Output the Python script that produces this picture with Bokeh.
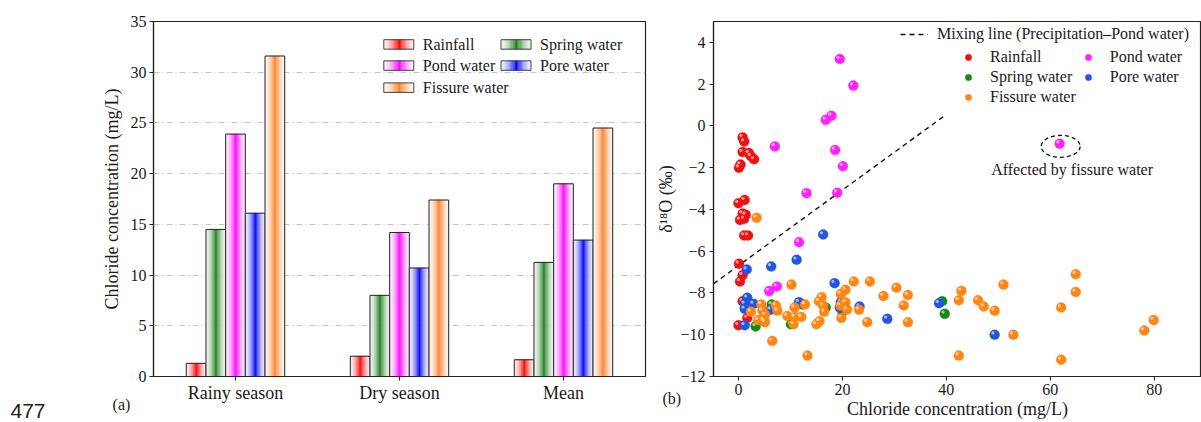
import numpy as np
from bokeh.plotting import figure
from bokeh.models import (Range1d, FixedTicker, Label, Legend, LegendItem,
                          CustomJSTickFormatter)
from bokeh.layouts import row
from bokeh.embed import file_html
from bokeh.resources import INLINE
from bokeh.core.properties import value
from bokeh.transform import dodge

# ---------------- data : panel (a) ----------------
seasons = ["Rainy season", "Dry season", "Mean"]
water_types = ["Rainfall", "Spring water", "Pond water", "Pore water", "Fissure water"]
rainfall_cl = [1.3, 2.0, 1.65]
spring_cl = [14.5, 8.0, 11.25]
pond_cl = [23.9, 14.2, 19.0]
pore_cl = [16.1, 10.7, 13.45]
fissure_cl = [31.6, 17.4, 24.5]
a_yticks = [0, 5, 10, 15, 20, 25, 30, 35]

# ---------------- data : panel (b) ----------------
rain_x = [0.8, 1.1, 0.8, 2.0, 2.4, 3.0, 0.1, 0.4, 0.0, 1.2, 0.8, 1.4, 0.3, 1.1, 1.1, 1.85,
          0.1, 0.8, 0.3, 0.8, 1.7, 0.0]
rain_y = [-0.55, -0.75, -1.25, -1.3, -1.45, -1.6, -2.0, -1.85, -3.7, -3.55, -4.2, -4.25,
          -4.5, -4.45, -5.25, -5.25, -6.6, -7.15, -7.45, -8.4, -9.2, -9.55]
pond_x = [19.5, 22.1, 16.8, 17.9, 7.0, 18.6, 20.1, 13.1, 19.0, 11.65, 5.9, 7.4, 61.8]
pond_y = [3.2, 1.93, 0.29, 0.49, -0.98, -1.15, -1.93, -3.22, -3.2, -5.57, -7.91, -7.69, -0.85]
spring_x = [3.3, 6.4, 6.5, 10.1, 12.3, 16.8, 20.0, 39.2, 39.7]
spring_y = [-9.6, -8.55, -8.75, -9.5, -8.55, -8.7, -8.9, -8.4, -9.0]
pore_x = [16.3, 11.2, 6.3, 1.6, 18.5, 1.7, 1.2, 2.9, 1.2, 6.2, 1.2, 11.65, 19.7, 19.5,
          23.3, 28.65, 38.6, 49.3]
pore_y = [-5.2, -6.41, -6.73, -6.88, -7.53, -8.23, -8.52, -8.52, -8.76, -8.8, -9.55, -8.44,
          -8.44, -8.7, -8.65, -9.24, -8.49, -10.0]
fissure_x = [3.5, 10.2, 22.2, 25.3, 30.4, 27.9, 32.6, 31.8, 32.6, 24.8, 23.2, 20.6, 19.7,
             16.0, 15.5, 16.3, 16.5, 15.0, 15.6, 20.6, 20.9, 19.8, 19.6, 12.8, 10.8, 9.4,
             10.8, 12.1, 10.6, 13.3, 6.5, 4.4, 4.6, 5.1, 4.8, 3.8, 5.1, 7.2, 7.5, 2.4,
             64.9, 51.0, 42.9, 64.9, 42.4, 46.1, 47.2, 49.3, 62.1, 52.9, 79.9, 78.1, 42.4, 62.1]
fissure_y = [-4.4, -7.6, -7.45, -7.45, -7.75, -8.15, -8.1, -8.6, -9.4, -9.4, -8.8, -7.85,
             -8.05, -8.2, -8.4, -8.6, -8.9, -9.5, -9.35, -8.45, -8.8, -9.2, -8.6, -8.55,
             -8.7, -9.1, -9.15, -9.15, -9.5, -11.0, -10.3, -8.55, -8.85, -9.05, -9.3, -9.3,
             -9.4, -8.6, -8.85, -8.9, -7.1, -7.6, -7.9, -7.95, -8.35, -8.35, -8.65, -8.85,
             -8.7, -10.0, -9.3, -9.8, -11.0, -11.2]
mix_x = [-4.8, 39.4]
mix_y = [-7.56, 0.44]
b_xticks = [0, 20, 40, 60, 80]
b_yticks = [-12, -10, -8, -6, -4, -2, 0, 2, 4]

SERIF = "Liberation Serif"
TXT = "#1a1a1a"


def hexmix(c, t):
    r, g, b = int(c[1:3], 16), int(c[3:5], 16), int(c[5:7], 16)
    return "#%02x%02x%02x" % tuple(int(round(255 + (v - 255) * t)) for v in (r, g, b))


def profile(u):
    return 0.06 + 0.94 * max(0.0, 1 - abs(u - 0.52) / 0.52) ** 1.7


minus_fmt = CustomJSTickFormatter(code="return tick < 0 ? '\\u2212' + Math.abs(tick) : String(tick);")

# ================= panel (a) =================
A_LEFT, A_BOTTOM = 153, 393   # frame position in page pixels
pa = figure(width=650, height=422, x_range=Range1d(0, 3), y_range=Range1d(0, 35),
            output_backend="svg", toolbar_location=None,
            min_border_left=A_LEFT, min_border_right=5, min_border_top=18, min_border_bottom=29)
pa.outline_line_color = "#222"
pa.outline_line_width = 1.2
pa.xgrid.visible = False
pa.ygrid.grid_line_color = "#c4c4c4"
pa.ygrid.grid_line_dash = "6 3 1 3"
pa.ygrid.grid_line_width = 1

pa.xaxis.ticker = FixedTicker(ticks=[i + 0.5 for i in range(len(seasons))])
pa.xaxis.formatter = CustomJSTickFormatter(args=dict(labels=seasons),
                                           code="return labels[Math.floor(tick)];")
pa.yaxis.ticker = FixedTicker(ticks=a_yticks)
pa.yaxis.axis_label = "Chloride concentration (mg/L)"
for ax in (pa.xaxis[0], pa.yaxis[0]):
    ax.axis_line_color = "#222"
    ax.axis_line_width = 1.2
    ax.major_tick_line_color = "#222"
    ax.major_tick_out = 4
    ax.major_tick_in = 0
    ax.minor_tick_line_color = None
    ax.major_label_text_font = SERIF
    ax.major_label_text_color = TXT
    ax.axis_label_text_font = SERIF
    ax.axis_label_text_font_style = "normal"
    ax.axis_label_text_color = TXT
    ax.axis_label_text_font_size = "18px"
pa.xaxis.major_label_text_font_size = "18px"
pa.xaxis.major_label_standoff = 2
pa.yaxis.major_label_text_font_size = "16px"
pa.yaxis.major_label_standoff = 3
pa.yaxis.axis_label_standoff = 6

BW = 0.12
NS = 24
bar_colors = ["#ff0000", "#1e7d1e", "#ff00ff", "#0000ff", "#ff7f27"]
bar_values = [rainfall_cl, spring_cl, pond_cl, pore_cl, fissure_cl]
for k, (vals, col) in enumerate(zip(bar_values, bar_colors)):
    xs, tops, cols = [], [], []
    for i, v in enumerate(vals):
        c0 = i + 0.5 + (k - 2) * BW
        for j in range(NS):
            u = (j + 0.5) / NS
            xs.append(c0 - BW / 2 + u * BW)
            tops.append(v)
            cols.append(hexmix(col, profile(u)))
    pa.vbar(x=xs, top=tops, bottom=0, width=BW / NS, fill_color=cols, line_color=cols,
            line_width=0.4)
    pa.vbar(x=[i + 0.5 + (k - 2) * BW for i in range(len(vals))], top=vals, bottom=0,
            width=BW, fill_color=None, line_color="#222", line_width=1)


# manual legend with gradient swatches (positions from pixel layout)
def ax_a(px):
    return (px - A_LEFT) / 164.0


def ay_a(py):
    return (A_BOTTOM - py) / 10.7


leg_pos = [(0, 0), (0, 1), (1, 0), (1, 1), (2, 0)]
col_px = [398.3, 515.5]
row_py = [42.7, 65.0, 88.3]
sw_w, sw_h = 30, 10
for k, name in enumerate(water_types):
    r_, c_ = leg_pos[k]
    cx, cy = col_px[c_], row_py[r_]
    lefts, rights, cols = [], [], []
    for j in range(NS):
        u0, u1 = j / NS, (j + 1) / NS
        lefts.append(ax_a(cx - sw_w / 2 + u0 * sw_w))
        rights.append(ax_a(cx - sw_w / 2 + u1 * sw_w))
        cols.append(hexmix(bar_colors[k], profile((u0 + u1) / 2)))
    pa.quad(left=lefts, right=rights, top=ay_a(cy - sw_h / 2), bottom=ay_a(cy + sw_h / 2),
            fill_color=cols, line_color=cols, line_width=0.4)
    pa.quad(left=[ax_a(cx - sw_w / 2)], right=[ax_a(cx + sw_w / 2)], top=[ay_a(cy - sw_h / 2)],
            bottom=[ay_a(cy + sw_h / 2)], fill_color=None, line_color="#444", line_width=1)
    pa.text(x=[ax_a(cx + 24)], y=[ay_a(cy)], text=[name], text_font=value(SERIF),
            text_font_size="16px", text_baseline="middle", text_align="left", text_color=TXT)

# labels outside the frame: placed in side panels (not clipped to the frame)
pa.add_layout(Label(x=41, y=-28, x_units="screen", y_units="screen",
                    text="(a)", text_font=SERIF, text_font_size="16px",
                    text_align="center", text_baseline="middle", text_color=TXT), "left")
pa.add_layout(Label(x=-35, y=-34, x_units="screen", y_units="screen",
                    text="477", text_font="Liberation Sans", text_font_size="21px",
                    text_align="left", text_baseline="middle", text_color="#222"), "left")

# ================= panel (b) =================
pb = figure(width=551, height=422, x_range=Range1d(-4.8, 89.1), y_range=Range1d(-12, 5),
            output_backend="svg", toolbar_location=None,
            min_border_left=63, min_border_right=0, min_border_top=21, min_border_bottom=46)
pb.outline_line_color = "#222"
pb.outline_line_width = 1.2
pb.grid.visible = False
pb.xaxis.ticker = FixedTicker(ticks=b_xticks)
pb.yaxis.ticker = FixedTicker(ticks=b_yticks)
pb.yaxis.formatter = minus_fmt
pb.xaxis.axis_label = "Chloride concentration (mg/L)"
pb.yaxis.axis_label = "\u03b4\u00b9\u2078O (\u2030)"
for ax in (pb.xaxis[0], pb.yaxis[0]):
    ax.axis_line_color = "#222"
    ax.axis_line_width = 1.2
    ax.major_tick_line_color = "#222"
    ax.major_tick_out = 4
    ax.major_tick_in = 0
    ax.minor_tick_line_color = None
    ax.major_label_text_font = SERIF
    ax.major_label_text_font_size = "16px"
    ax.major_label_text_color = TXT
    ax.axis_label_text_font = SERIF
    ax.axis_label_text_font_style = "normal"
    ax.axis_label_text_font_size = "18px"
    ax.axis_label_text_color = TXT
pb.xaxis.major_label_standoff = 3
pb.xaxis.axis_label_standoff = 1
pb.yaxis.major_label_standoff = 4
pb.yaxis.axis_label_standoff = 1

mix_r = pb.line(mix_x, mix_y, line_color="#111", line_width=1.4, line_dash="5 4")

series = [
    ("Rainfall", rain_x, rain_y, "#ee1111"),
    ("Pond water", pond_x, pond_y, "#ff22ff"),
    ("Spring water", spring_x, spring_y, "#148a14"),
    ("Pore water", pore_x, pore_y, "#2255e0"),
    ("Fissure water", fissure_x, fissure_y, "#ff8614"),
]
rends = {}
for name, xs, ys, col in series:
    src = dict(x=xs, y=ys)
    r = pb.scatter(x="x", y="y", source=src, size=10, marker="circle", fill_color=col,
                   line_color=col, line_width=0.3)
    pb.scatter(x=dodge("x", -0.33), y=dodge("y", 0.085), source=src, size=3.2, marker="circle",
               fill_color=hexmix(col, 0.35), line_color=None, fill_alpha=0.9)
    rends[name] = r

pb.ellipse(x=[62.0], y=[-0.98], width=7.5, height=1.05, fill_color=None, line_color="#111",
           line_width=1.3, line_dash="4 3")
pb.add_layout(Label(x=64.2, y=-2.1, text="Affected by fissure water", text_font=SERIF,
                    text_font_size="16px", text_align="center", text_baseline="middle",
                    text_color=TXT))
pb.add_layout(Label(x=-41.7, y=-377, x_units="screen", y_units="screen",
                    text="(b)", text_font=SERIF, text_font_size="16px",
                    text_align="center", text_baseline="middle", text_color=TXT), "above")

common = dict(label_text_font=SERIF, label_text_font_size="16px", label_text_color=TXT,
              border_line_color=None, background_fill_alpha=0, padding=0, margin=0,
              spacing=2, glyph_height=16, label_height=17)
leg1 = Legend(items=[LegendItem(label="Mixing line (Precipitation\u2013Pond water)",
                                renderers=[mix_r])],
              location=(187, 333), glyph_width=28, label_standoff=9, **common)
# column-major filling: left column Rainfall / Spring / Fissure, right column Pond / Pore
leg2 = Legend(items=[LegendItem(label=n, renderers=[rends[n]]) for n in
                     ["Rainfall", "Spring water", "Fissure water", "Pond water", "Pore water"]],
              location=(245, 270), glyph_width=20, label_standoff=12, ncols=2, **common)
pb.add_layout(leg1)
pb.add_layout(leg2)

layout = row(pa, pb)
open("out.html", "w").write(file_html(layout, INLINE))
